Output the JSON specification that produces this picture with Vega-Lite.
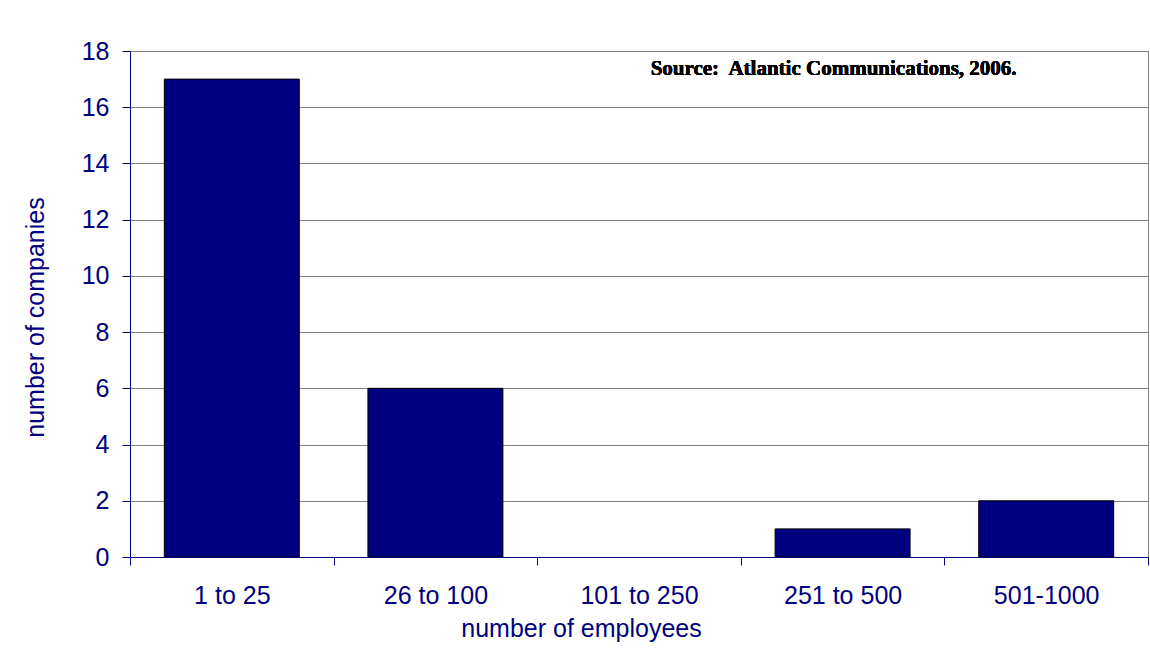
{
  "$schema": "https://vega.github.io/schema/vega-lite/v6.json",
  "width": 1018,
  "height": 506,
  "autosize": "none",
  "padding": {"left": 130, "top": 51, "right": 2, "bottom": 92},
  "background": "white",
  "config": {
    "view": {"stroke": "#808080", "strokeWidth": 1},
    "axis": {
      "labelFont": "Liberation Sans",
      "titleFont": "Liberation Sans",
      "labelColor": "#000080",
      "titleColor": "#000080",
      "labelFontSize": 25,
      "titleFontSize": 25,
      "titleFontWeight": "normal",
      "domainColor": "#000080",
      "domainWidth": 1,
      "tickColor": "#000080",
      "tickSize": 8,
      "tickWidth": 1
    }
  },
  "data": {
    "values": [
      {"employees": "1 to 25", "companies": 17},
      {"employees": "26 to 100", "companies": 6},
      {"employees": "101 to 250", "companies": 0},
      {"employees": "251 to 500", "companies": 1},
      {"employees": "501-1000", "companies": 2}
    ]
  },
  "layer": [
    {
      "mark": {
        "type": "bar",
        "fill": "#000080",
        "stroke": "black",
        "width": {"band": 0.663}
      },
      "encoding": {
        "x": {
          "field": "employees",
          "type": "nominal",
          "sort": null,
          "scale": {"paddingInner": 0, "paddingOuter": 0},
          "axis": {
            "title": "number of employees",
            "labelAngle": 0,
            "labelBaseline": "alphabetic",
            "labelPadding": 38,
            "tickBand": "extent",
            "titleX": 451,
            "titleY": 79,
            "titleBaseline": "alphabetic",
            "titleAlign": "center",
            "zindex": 1
          }
        },
        "y": {
          "field": "companies",
          "type": "quantitative",
          "scale": {"domain": [0, 18], "nice": false},
          "axis": {
            "title": "number of companies",
            "values": [0, 2, 4, 6, 8, 10, 12, 14, 16, 18],
            "grid": true,
            "gridColor": "#808080",
            "gridWidth": 1,
            "labelPadding": 13,
            "titleAngle": 270,
            "titleAlign": "center",
            "titleBaseline": "alphabetic",
            "titleX": -87,
            "titleY": 266,
            "zindex": 0
          }
        },
        "strokeWidth": {
          "condition": {"test": "datum.companies === 0", "value": 0},
          "value": 1
        }
      }
    },
    {
      "mark": {
        "type": "text",
        "text": "Source:\u00a0 Atlantic Communications, 2006.",
        "font": "Liberation Serif",
        "fontWeight": "bold",
        "fontSize": 21,
        "color": "black",
        "align": "center",
        "baseline": "alphabetic",
        "dx": -9
      },
      "encoding": {
        "x": {"datum": "251 to 500"},
        "y": {"datum": 17.15}
      }
    }
  ]
}
